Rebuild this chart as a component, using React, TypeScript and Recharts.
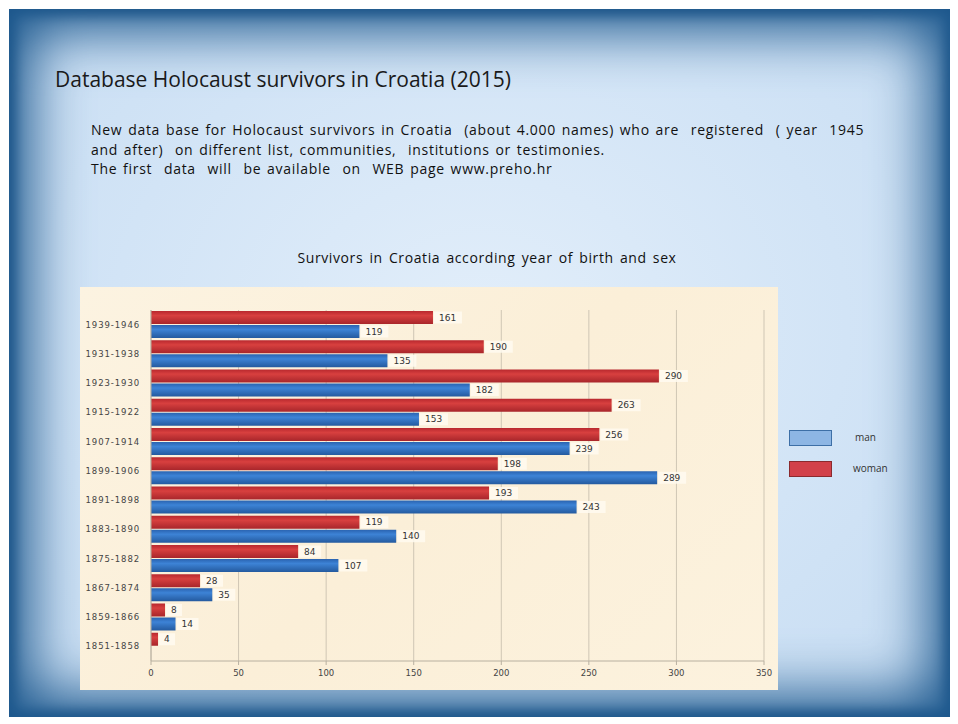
import React from "react";
import { BarChart, Bar, XAxis, YAxis, CartesianGrid, LabelList } from "recharts";

const categories = [
  "1939-1946", "1931-1938", "1923-1930", "1915-1922", "1907-1914", "1899-1906",
  "1891-1898", "1883-1890", "1875-1882", "1867-1874", "1859-1866", "1851-1858",
];
const womanValues = [161, 190, 290, 263, 256, 198, 193, 119, 84, 28, 8, 4];
const manValues: (number | null)[] = [119, 135, 182, 153, 239, 289, 243, 140, 107, 35, 14, null];
const xTicks = [0, 50, 100, 150, 200, 250, 300, 350];

const data = categories.map((c, i) => ({ cat: c, woman: womanValues[i], man: manValues[i] }));

const ValueLabel = (props: any) => {
  const { x, y, width, height, value } = props;
  if (value === null || value === undefined) return null;
  const tx = x + width + 6;
  const cy = y + height / 2;
  const w = String(value).length * 6 + 10;
  return (
    <g>
      <rect x={x + width + 1} y={cy - 6} width={w} height={12} fill="#fffaf0" opacity={0.85} />
      <text x={tx} y={cy + 3} fontSize={9} fill="#333" fontFamily="'DejaVu Sans', sans-serif">
        {value}
      </text>
    </g>
  );
};

export default function App() {
  const font = "'Open Sans', 'Noto Sans', sans-serif";
  return (
    <div
      style={{
        position: "relative",
        width: 942,
        height: 708,
        marginLeft: 1,
        marginTop: 1,
        background: "radial-gradient(ellipse at 50% 45%, #e2eefa 0%, #d2e4f6 55%, #c6dcf2 100%)",
        boxShadow: "inset 0 0 55px 22px #1f5a8f, inset 0 0 12px 6px #174a7a",
        overflow: "hidden",
        fontFamily: font,
      }}
    >
      <div
        style={{
          position: "absolute",
          left: 46,
          top: 57,
          fontSize: 21,
          lineHeight: "26px",
          color: "#1a1a1a",
          letterSpacing: 0,
          whiteSpace: "nowrap",
        }}
      >
        Database Holocaust survivors in Croatia (2015)
      </div>
      <div
        style={{
          position: "absolute",
          left: 82,
          top: 111,
          fontSize: 14,
          lineHeight: "19.5px",
          color: "#111",
          fontWeight: 500,
          letterSpacing: 0.7,
          wordSpacing: 1.5,
          whiteSpace: "pre",
        }}
      >
        {"New data base for Holocaust survivors in Croatia  (about 4.000 names) who are  registered  ( year  1945\nand after)  on different list, communities,  institutions or testimonies.\nThe first  data  will  be available  on  WEB page www.preho.hr"}
      </div>
      <div
        style={{
          position: "absolute",
          left: 228,
          width: 500,
          top: 240,
          textAlign: "center",
          fontSize: 14,
          lineHeight: "18px",
          color: "#111",
          fontWeight: 500,
          letterSpacing: 0.6,
          wordSpacing: 2,
          whiteSpace: "nowrap",
        }}
      >
        Survivors in Croatia according year  of birth and sex
      </div>

      <div
        style={{
          position: "absolute",
          left: 71,
          top: 278,
          width: 698,
          height: 403,
          background: "linear-gradient(135deg, #fcf3e1 0%, #fbefd8 50%, #fcf2de 100%)",
        }}
      >
        <BarChart
          width={698}
          height={403}
          data={data}
          layout="vertical"
          margin={{ top: 23, right: 14, bottom: 0, left: 0 }}
          barGap={1}
          barSize={13}
        >
          <defs>
            <linearGradient id="redGrad" x1="0" y1="0" x2="0" y2="1">
              <stop offset="0%" stopColor="#b8282e" />
              <stop offset="35%" stopColor="#d8403f" />
              <stop offset="100%" stopColor="#a8262b" />
            </linearGradient>
            <linearGradient id="blueGrad" x1="0" y1="0" x2="0" y2="1">
              <stop offset="0%" stopColor="#2a63b0" />
              <stop offset="35%" stopColor="#3d83d6" />
              <stop offset="100%" stopColor="#245a9f" />
            </linearGradient>
          </defs>
          <CartesianGrid horizontal={false} stroke="#cfc6b4" strokeWidth={1} />
          <XAxis
            type="number"
            domain={[0, 350]}
            ticks={xTicks}
            interval={0}
            height={29}
            stroke="#b8b0a0"
            tickSize={4}
            tickMargin={5}
            tick={{ fontSize: 8.5, fill: "#444", fontFamily: "'DejaVu Sans', sans-serif" }}
          />
          <YAxis
            type="category"
            dataKey="cat"
            width={71}
            interval={0}
            stroke="#b8b0a0"
            tickLine={false}
            tickMargin={5}
            tick={{ fontSize: 8.5, fill: "#444", fontFamily: "'DejaVu Sans', sans-serif", letterSpacing: 0.9 }}
          />
          <Bar dataKey="woman" fill="url(#redGrad)" isAnimationActive={false}>
            <LabelList dataKey="woman" content={ValueLabel} />
          </Bar>
          <Bar dataKey="man" fill="url(#blueGrad)" isAnimationActive={false}>
            <LabelList dataKey="man" content={ValueLabel} />
          </Bar>
        </BarChart>
      </div>

      <div
        style={{
          position: "absolute",
          left: 780,
          top: 421,
          width: 41,
          height: 14,
          background: "#8db6e4",
          border: "1px solid #3d6fa6",
        }}
      />
      <div style={{ position: "absolute", left: 846, top: 422, fontSize: 10, color: "#333", lineHeight: "12px" }}>
        man
      </div>
      <div
        style={{
          position: "absolute",
          left: 780,
          top: 452,
          width: 41,
          height: 14,
          background: "#d2414a",
          border: "1px solid #8a2a2e",
        }}
      />
      <div style={{ position: "absolute", left: 844, top: 453, fontSize: 10, color: "#333", lineHeight: "12px" }}>
        woman
      </div>
    </div>
  );
}
